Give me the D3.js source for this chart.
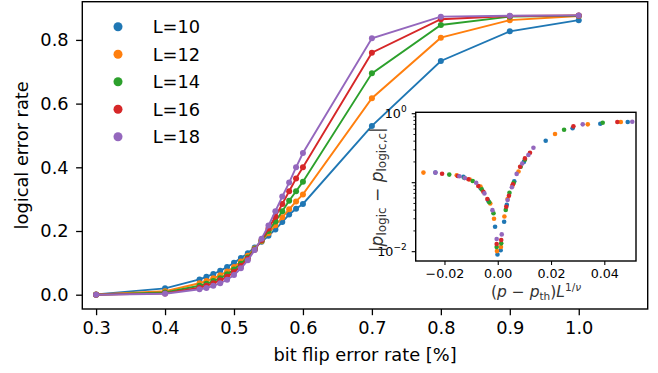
<!DOCTYPE html>
<html><head><meta charset="utf-8">
<script src="https://cdn.jsdelivr.net/npm/d3@7"></script>
<style>
html,body{margin:0;padding:0;background:#fff;}
svg{display:block;}
text{font-family:"DejaVu Sans",sans-serif;}
</style></head>
<body>
<svg id="chart" width="658" height="373"></svg>
<script>
// ---------- DATA ----------
const sizes = ["L=10","L=12","L=14","L=16","L=18"];
const colors = ["#1f77b4","#ff7f0e","#2ca02c","#d62728","#9467bd"];
const pValues = [0.3,0.4,0.45,0.46,0.47,0.48,0.49,0.50,0.51,0.52,0.53,0.54,0.55,0.56,0.57,0.58,0.59,0.60,0.7,0.8,0.9,1.0];
const errL10 = [0.001,0.020,0.048,0.056,0.065,0.075,0.087,0.100,0.115,0.130,0.148,0.166,0.185,0.205,0.228,0.252,0.270,0.285,0.530,0.734,0.827,0.862];
const errL12 = [0.001,0.011,0.036,0.043,0.052,0.061,0.073,0.087,0.104,0.122,0.145,0.168,0.193,0.218,0.243,0.268,0.293,0.315,0.617,0.807,0.862,0.875];
const errL14 = [0.000,0.007,0.028,0.034,0.043,0.052,0.064,0.079,0.097,0.117,0.143,0.170,0.200,0.230,0.262,0.295,0.325,0.355,0.695,0.847,0.873,0.876];
const errL16 = [0.000,0.004,0.022,0.028,0.036,0.045,0.056,0.071,0.090,0.113,0.141,0.172,0.208,0.245,0.285,0.325,0.365,0.400,0.760,0.865,0.875,0.877];
const errL18 = [0.000,0.003,0.017,0.021,0.028,0.036,0.047,0.062,0.083,0.108,0.140,0.176,0.217,0.262,0.308,0.352,0.400,0.445,0.805,0.873,0.876,0.877];
const xTicks = [0.3,0.4,0.5,0.6,0.7,0.8,0.9,1.0];
const yTicks = [0.0,0.2,0.4,0.6,0.8];

// inset: scaled x, |p_logic - p_logic,c|
const insetL10 = [[-0.0234,0.140],[-0.0129,0.122],[-0.0064,0.083],[-0.0036,0.055],[-0.0010,0.023],[-0.0001,0.0091],[0.0011,0.0105],[0.0024,0.0272],[0.0034,0.0479],[0.0062,0.105],[0.0098,0.200],[0.0180,0.406],[0.0281,0.614],[0.0385,0.716],[0.0488,0.759]];
const insetL12 = [[-0.0279,0.140],[-0.0154,0.128],[-0.0105,0.111],[-0.0065,0.088],[-0.0028,0.050],[-0.0014,0.030],[-0.0003,0.0102],[0.0012,0.0117],[0.0025,0.0324],[0.0037,0.058],[0.0055,0.090],[0.0078,0.145],[0.0215,0.508],[0.0338,0.701],[0.0462,0.759]];
const insetL14 = [[-0.0182,0.131],[-0.0125,0.117],[-0.0094,0.106],[-0.0060,0.080],[-0.0032,0.052],[-0.0016,0.036],[-0.0004,0.0117],[0.0013,0.0132],[0.0030,0.0403],[0.0044,0.0716],[0.0060,0.100],[0.0086,0.170],[0.0102,0.215],[0.0249,0.586],[0.0394,0.741]];
const insetL16 = [[-0.0209,0.135],[-0.0150,0.125],[-0.0110,0.112],[-0.0073,0.0895],[-0.0054,0.074],[-0.0039,0.058],[-0.0004,0.0129],[0.0013,0.0148],[0.0032,0.0447],[0.0042,0.0646],[0.0057,0.095],[0.0084,0.170],[0.0102,0.225],[0.0121,0.272],[0.0284,0.656],[0.0449,0.759]];
const insetL18 = [[-0.0234,0.140],[-0.0144,0.124],[-0.0124,0.117],[-0.0081,0.100],[-0.0050,0.070],[-0.0020,0.040],[-0.0004,0.0153],[0.0015,0.0178],[0.0037,0.056],[0.0053,0.0857],[0.0071,0.134],[0.0092,0.190],[0.0115,0.252],[0.0134,0.321],[0.0319,0.701],[0.0505,0.766]];
const insetXTicks = [-0.02,0.00,0.02,0.04];
const insetYLabelTicks = [1e0,1e-2];

// ---------- LAYOUT ----------
const svg = d3.select("#chart");
const M = {l:82.3, r:647.7, t:1.7, b:309};
const x = d3.scaleLinear().domain([0.28,1.1]).range([M.l,M.r]);
const y = d3.scaleLinear().domain([-0.0449,0.92]).range([M.b,M.t]);
const FS = 17.8;

const mainSeries = [errL10,errL12,errL14,errL16,errL18];

// series
const line = d3.line().x(d=>x(d[0])).y(d=>y(d[1]));
mainSeries.forEach((vals,i)=>{
  const pts = pValues.map((p,j)=>[p,vals[j]]);
  const g = svg.append("g");
  g.append("path").datum(pts).attr("d",line).attr("fill","none")
    .attr("stroke",colors[i]).attr("stroke-width",1.9);
  g.selectAll("circle").data(pts).join("circle")
    .attr("cx",d=>x(d[0])).attr("cy",d=>y(d[1])).attr("r",3)
    .attr("fill",colors[i]);
});

// axes
const xAxis = svg.append("g").attr("transform",`translate(0,${M.b})`)
  .call(d3.axisBottom(x).tickValues(xTicks).tickFormat(d3.format(".1f")).tickSize(6.2).tickPadding(6.5).tickSizeOuter(0));
const yAxis = svg.append("g").attr("transform",`translate(${M.l},0)`)
  .call(d3.axisLeft(y).tickValues(yTicks).tickFormat(d3.format(".1f")).tickSize(6.2).tickPadding(7.5).tickSizeOuter(0));
[xAxis,yAxis].forEach(a=>{
  a.select(".domain").remove();
  a.selectAll(".tick line").attr("stroke","#000").attr("stroke-width",1.3);
  a.selectAll(".tick text").attr("font-size",FS).attr("fill","#000").attr("font-family","DejaVu Sans");
});
svg.append("rect").attr("x",M.l).attr("y",M.t).attr("width",M.r-M.l).attr("height",M.b-M.t)
  .attr("fill","none").attr("stroke","#000").attr("stroke-width",1.4);

svg.append("text").attr("x",(M.l+M.r)/2).attr("y",361).attr("text-anchor","middle")
  .attr("font-size",FS).text("bit flip error rate [%]");
svg.append("text").attr("transform",`translate(27.5,${(M.t+M.b)/2}) rotate(-90)`)
  .attr("text-anchor","middle").attr("font-size",FS).text("logical error rate");

// legend
sizes.forEach((s,i)=>{
  const yy = 26.7 + i*27.5;
  svg.append("circle").attr("cx",118).attr("cy",yy).attr("r",4.5).attr("fill",colors[i]);
  svg.append("text").attr("x",152.7).attr("y",yy).attr("dy","0.36em").attr("font-size",FS).text(s);
});

// ---------- INSET ----------
const I = {l:415.7, r:636, t:112.3, b:261};
const ix = d3.scaleLinear().domain([-0.0308,0.0519]).range([I.l,I.r]);
const iy = d3.scaleLog().domain([Math.pow(10,-2.135),Math.pow(10,0.0203)]).range([I.b,I.t]);
svg.append("rect").attr("x",I.l).attr("y",I.t).attr("width",I.r-I.l).attr("height",I.b-I.t)
  .attr("fill","#fff");
const insetSeries = [insetL10,insetL12,insetL14,insetL16,insetL18];
insetSeries.forEach((pts,i)=>{
  svg.append("g").selectAll("circle").data(pts).join("circle")
    .attr("cx",d=>ix(d[0])).attr("cy",d=>iy(d[1])).attr("r",2.3).attr("fill",colors[i]);
});
const IFS = 12.7;
const ixAxis = svg.append("g").attr("transform",`translate(0,${I.b})`)
  .call(d3.axisBottom(ix).tickValues(insetXTicks).tickFormat(d=>d3.format(".2f")(d).replace("-","\u2212")).tickSize(4).tickPadding(4).tickSizeOuter(0));
ixAxis.select(".domain").remove();
ixAxis.selectAll(".tick line").attr("stroke","#000").attr("stroke-width",1.1);
ixAxis.selectAll(".tick text").attr("font-size",IFS).attr("fill","#000");

// log ticks
const majors = [1e-2,1e-1,1e0];
const minors = [];
[1e-2,1e-1].forEach(b=>{for(let k=2;k<=9;k++) minors.push(b*k);});
const iyg = svg.append("g");
iyg.selectAll("line.maj").data(majors).join("line").attr("x1",I.l-4).attr("x2",I.l)
  .attr("y1",d=>iy(d)).attr("y2",d=>iy(d)).attr("stroke","#000").attr("stroke-width",1.1);
iyg.selectAll("line.min").data(minors).join("line").attr("x1",I.l-2.3).attr("x2",I.l)
  .attr("y1",d=>iy(d)).attr("y2",d=>iy(d)).attr("stroke","#000").attr("stroke-width",0.9);
insetYLabelTicks.forEach(v=>{
  const e = Math.round(Math.log10(v));
  const t = iyg.append("text").attr("x",I.l-9).attr("y",iy(v)+4.5).attr("text-anchor","end").attr("font-size",IFS);
  t.append("tspan").text("10");
  t.append("tspan").attr("dy",-6).attr("font-size",9).text(e<0?"\u2212"+(-e):String(e));
});
svg.append("rect").attr("x",I.l).attr("y",I.t).attr("width",I.r-I.l).attr("height",I.b-I.t)
  .attr("fill","none").attr("stroke","#000").attr("stroke-width",1.4);

// inset labels (math-like)
const xl = svg.append("text").attr("x",536).attr("y",297).attr("text-anchor","middle")
  .attr("font-family","Liberation Serif,DejaVu Serif,serif").attr("font-size",15.5).attr("fill","#333");
xl.append("tspan").text("(");
xl.append("tspan").attr("font-style","italic").text("p");
xl.append("tspan").text(" \u2212 ");
xl.append("tspan").attr("font-style","italic").text("p");
xl.append("tspan").attr("font-size",10.5).attr("dy",3).text("th");
xl.append("tspan").attr("dy",-3).text(")");
xl.append("tspan").attr("font-style","italic").text("L");
xl.append("tspan").attr("font-size",10.5).attr("dy",-6).text("1/");
xl.append("tspan").attr("font-size",10.5).attr("font-style","italic").text("\u03bd");

const yl = svg.append("text").attr("transform",`translate(383,${(I.t+I.b)/2+3}) rotate(-90)`)
  .attr("text-anchor","middle").attr("font-family","Liberation Serif,DejaVu Serif,serif").attr("font-size",17).attr("fill","#333");
yl.append("tspan").text("|");
yl.append("tspan").attr("font-style","italic").text("p");
yl.append("tspan").attr("font-size",12).attr("dy",3).text("logic");
yl.append("tspan").attr("dy",-3).text(" \u2212 ");
yl.append("tspan").attr("font-style","italic").text("p");
yl.append("tspan").attr("font-size",12).attr("dy",3).text("logic,c");
yl.append("tspan").attr("dy",-3).text("|");
</script>
</body></html>
